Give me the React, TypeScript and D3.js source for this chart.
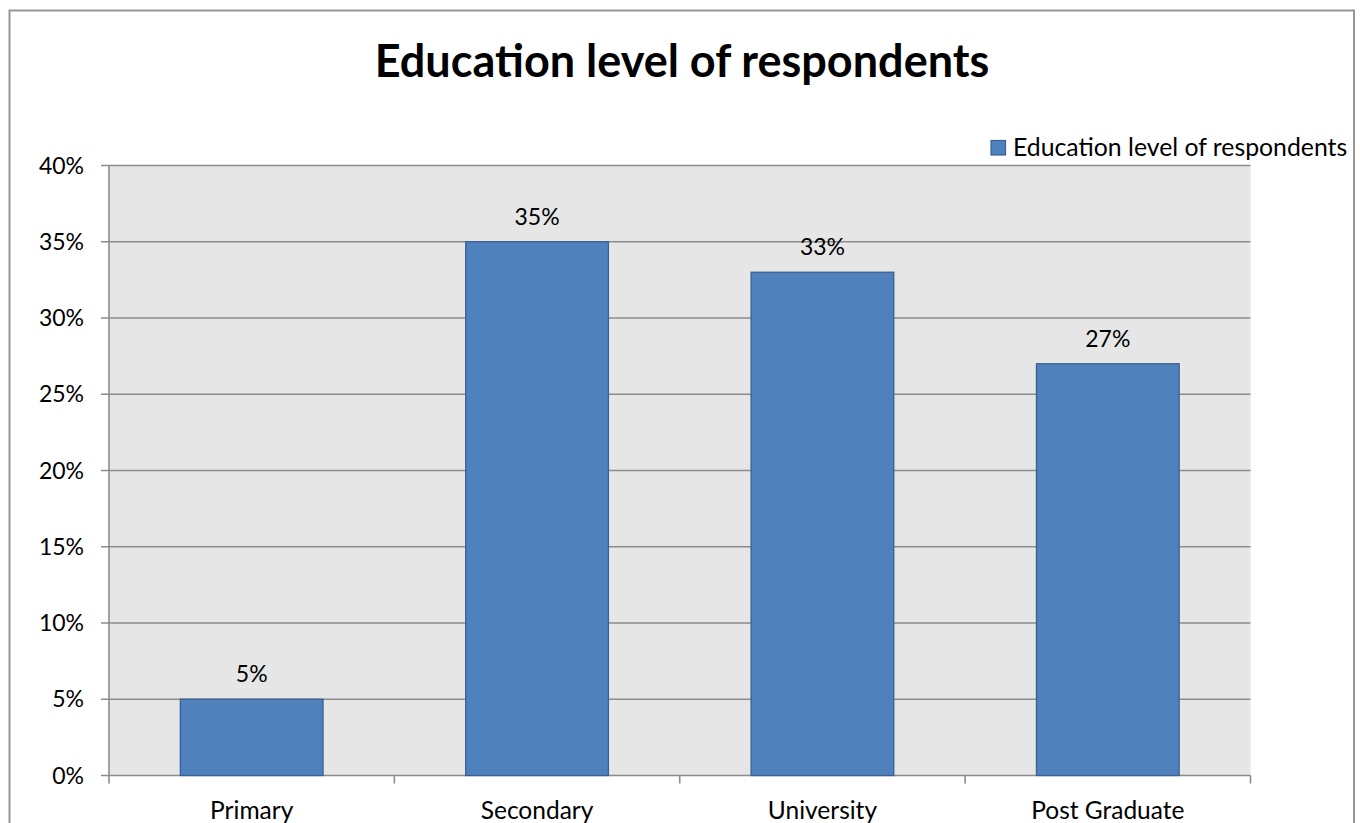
import React from "react";
import * as d3 from "d3";

// Share of respondents by highest education level
const categories = ["Primary", "Secondary", "University", "Post Graduate"];
const shares = [0.05, 0.35, 0.33, 0.27];
const yTicks = [0, 0.05, 0.1, 0.15, 0.2, 0.25, 0.3, 0.35, 0.4];
const seriesName = "Education level of respondents";
const chartTitle = "Education level of respondents";

const W = 1360;
const H = 823;
const plot = { left: 109, right: 1250.5, top: 165.5, bottom: 775.5 };
const FONT = "Lato, Carlito, Calibri, sans-serif";

export default function App() {
  const x = d3
    .scaleBand<string>()
    .domain(categories)
    .range([plot.left, plot.right])
    .paddingInner(0.5)
    .paddingOuter(0.25);
  const y = d3.scaleLinear().domain([0, 0.4]).range([plot.bottom, plot.top]);
  const pct = d3.format(".0%");
  const boundaries = d3
    .range(categories.length + 1)
    .map((i) => plot.left + (i * (plot.right - plot.left)) / categories.length);

  return (
    <svg
      width={W}
      height={H}
      style={{ position: "fixed", left: 0, top: 0, background: "#fff" }}
      fontFamily={FONT}
    >
      {/* outer chart frame */}
      <rect x={9.5} y={10.5} width={1344.5} height={900} fill="#fff" stroke="#969696" strokeWidth={2} />

      <text x={682} y={77} textAnchor="middle" fontSize={45} fontWeight={700} fill="#000">
        {chartTitle}
      </text>

      {/* plot area */}
      <rect x={plot.left} y={plot.top} width={plot.right - plot.left} height={plot.bottom - plot.top} fill="#e6e6e6" />

      {/* gridlines with left tick marks */}
      {yTicks.map((t) => (
        <g key={t}>
          <line x1={101} x2={plot.right} y1={y(t)} y2={y(t)} stroke="#8c8c8c" strokeWidth={1.6} />
          <text x={84} y={y(t) + 8} textAnchor="end" fontSize={23} fill="#000">
            {pct(t)}
          </text>
        </g>
      ))}

      {/* axes */}
      <line x1={plot.left} x2={plot.left} y1={plot.top} y2={plot.bottom} stroke="#8c8c8c" strokeWidth={1.6} />
      {boundaries.map((bx, i) => (
        <line key={i} x1={bx} x2={bx} y1={plot.bottom} y2={plot.bottom + 8} stroke="#8c8c8c" strokeWidth={1.6} />
      ))}

      {/* bars with value labels and category labels */}
      {categories.map((c, i) => (
        <g key={c}>
          <rect
            x={x(c)}
            y={y(shares[i])}
            width={x.bandwidth()}
            height={y(0) - y(shares[i])}
            fill="#4f81bd"
            stroke="#3a6193"
            strokeWidth={1.3}
          />
          <text
            x={(x(c) ?? 0) + x.bandwidth() / 2}
            y={y(shares[i]) - 17}
            textAnchor="middle"
            fontSize={23}
            fill="#000"
          >
            {pct(shares[i])}
          </text>
          <text
            x={(x(c) ?? 0) + x.bandwidth() / 2}
            y={819}
            textAnchor="middle"
            fontSize={24.5}
            fill="#000"
          >
            {c}
          </text>
        </g>
      ))}

      {/* legend */}
      <rect x={991} y={140.5} width={14.5} height={14.5} fill="#4f81bd" stroke="#3a6193" strokeWidth={1.2} />
      <text x={1013} y={155.5} fontSize={24.8} fill="#000">
        {seriesName}
      </text>
    </svg>
  );
}
